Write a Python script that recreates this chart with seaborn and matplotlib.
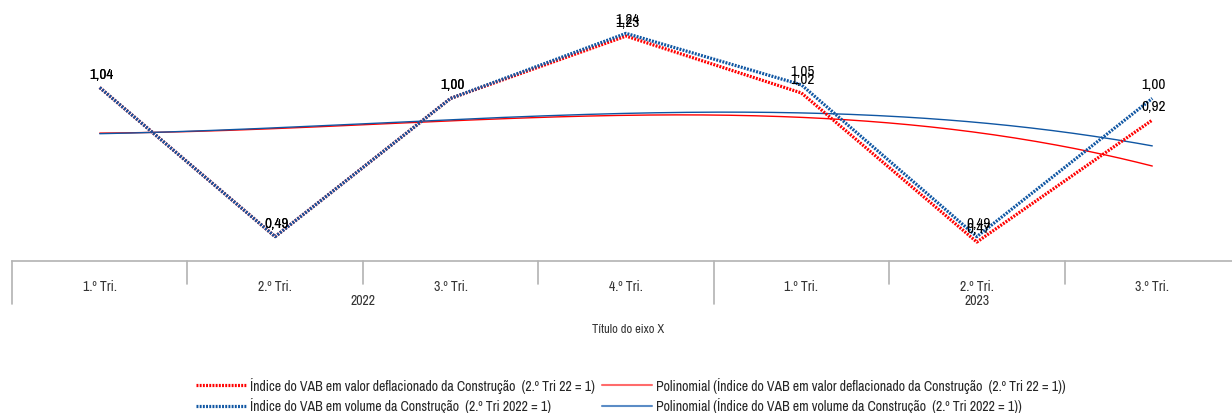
import numpy as np
import pandas as pd
import matplotlib
matplotlib.use("Agg")
import matplotlib.pyplot as plt
import seaborn as sns
from matplotlib.lines import Line2D

# Quarterly index values (2.º Tri = 1)
quarters = ["1.º Tri.", "2.º Tri.", "3.º Tri.", "4.º Tri.", "1.º Tri.", "2.º Tri.", "3.º Tri."]
years = ["2022", "2023"]
year_sizes = [4, 3]
valor_deflacionado = [1.04, 0.49, 1.00, 1.23, 1.02, 0.47, 0.92]
volume = [1.04, 0.49, 1.00, 1.24, 1.05, 0.49, 1.00]

name_valor = "Índice do VAB em valor deflacionado da Construção  (2.º Tri 22 = 1)"
name_volume = "Índice do VAB em volume da Construção  (2.º Tri 2022 = 1)"
name_trend_valor = "Polinomial (Índice do VAB em valor deflacionado da Construção  (2.º Tri 22 = 1))"
name_trend_volume = "Polinomial (Índice do VAB em volume da Construção  (2.º Tri 2022 = 1))"

RED = "#FF0000"
BLUE = "#0F56A3"

sns.set_theme(style="white")
plt.rcParams["font.family"] = ["Archivo Narrow", "Roboto Condensed", "DejaVu Sans"]

fig = plt.figure(figsize=(12.32, 4.14), dpi=100)
W, H = 1232, 414
ax = fig.add_axes([12 / W, (H - 262) / H, (1240 - 12) / W, 271 / H])

pos = np.arange(len(quarters))
df = pd.DataFrame({
    "pos": np.concatenate([pos, pos]),
    "valor": valor_deflacionado + volume,
    "serie": [name_valor] * len(pos) + [name_volume] * len(pos),
})

# Third-order polynomial trend lines fitted on the quarterly indices
grid = np.linspace(pos[0], pos[-1], 200)
trend_valor = np.polyval(np.polyfit(pos, valor_deflacionado, 3), grid)
trend_volume = np.polyval(np.polyfit(pos, volume, 3), grid)
trend_df = pd.DataFrame({
    "pos": np.concatenate([grid, grid]),
    "valor": np.concatenate([trend_valor, trend_volume]),
    "serie": [name_trend_valor] * len(grid) + [name_trend_volume] * len(grid),
})

sns.lineplot(data=trend_df, x="pos", y="valor", hue="serie",
             palette={name_trend_valor: RED, name_trend_volume: BLUE},
             linewidth=1.0, legend=False, ax=ax, sort=False)

dot = (0, (0.6, 0.4))
sns.lineplot(data=df[df.serie == name_valor], x="pos", y="valor", color=RED,
             linewidth=2.3, legend=False, ax=ax)
sns.lineplot(data=df[df.serie == name_volume], x="pos", y="valor", color=BLUE,
             linewidth=2.3, legend=False, ax=ax)
for ln in ax.lines[-2:]:
    ln.set_linestyle(dot)
    ln.set_dash_capstyle("butt")

# Data labels
def fmt(v):
    return f"{v:.2f}".replace(".", ",")

for series in (valor_deflacionado, volume):
    for x, v in zip(pos, series):
        ax.annotate(fmt(v), (x, v), xytext=(1, 5), textcoords="offset points",
                    ha="center", va="bottom", fontsize=11, color="black")

ax.set_xlim(-0.5, len(quarters) - 0.5)
ax.set_ylim(0.4, 1.4)
ax.set_yticks([])
for s in ["top", "left", "right"]:
    ax.spines[s].set_visible(False)
ax.spines["bottom"].set_color("#B3B3B3")
ax.spines["bottom"].set_linewidth(1.2)

ax.set_xticks(pos)
ax.set_xticklabels(quarters, fontsize=10, color="#333333")
ax.tick_params(axis="x", length=0, pad=13)
ax.set_xlabel("")
ax.set_ylabel("")

# Multi-level category axis separators and year labels
xt = ax.get_xaxis_transform()
year_edges = np.concatenate([[0], np.cumsum(year_sizes)]) - 0.5
for b in np.arange(len(quarters) + 1) - 0.5:
    depth = -0.16 if b in year_edges else -0.085
    ax.plot([b, b], [0, depth], transform=xt, color="#B3B3B3", lw=1.2, clip_on=False)
for i, yr in enumerate(years):
    center = (year_edges[i] + year_edges[i + 1]) / 2
    ax.text(center, -0.145, yr, transform=xt, ha="center", va="center",
            fontsize=10, color="#333333")

ax.text(np.mean(ax.get_xlim()) + 0.01, -0.25, "Título do eixo X", transform=xt,
        ha="center", va="center", fontsize=9, color="#333333")

handles = [
    Line2D([], [], color=RED, lw=2.3, linestyle=dot, dash_capstyle="butt"),
    Line2D([], [], color=BLUE, lw=2.3, linestyle=dot, dash_capstyle="butt"),
    Line2D([], [], color="#FF6B6B", lw=1.5),
    Line2D([], [], color="#5B8CC6", lw=1.5),
]
labels = [name_valor, name_volume, name_trend_valor, name_trend_volume]
fig.legend(handles, labels, ncol=2, loc="center", bbox_to_anchor=(631 / W, 1 - 396 / H),
           frameon=False, fontsize=10, handlelength=3.6, handletextpad=0.3,
           columnspacing=0.5, labelspacing=0.35, borderpad=0)

fig.savefig("out.png", dpi=100)
